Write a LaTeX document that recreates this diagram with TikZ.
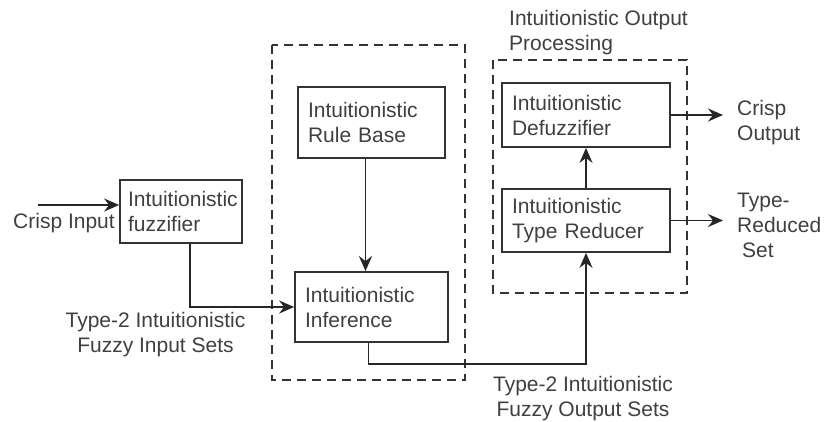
\documentclass[tikz,border=0pt]{standalone}
\usepackage{fontspec}
\setmainfont{Liberation Sans}
\usetikzlibrary{arrows.meta}
\begin{document}
\begin{tikzpicture}[x=1pt,y=-1pt,
  txt/.style={font=\fontsize{21}{25}\selectfont, text=black!75},
  box/.style={txt, draw=black!80, line width=1.8pt, inner xsep=10pt, inner ysep=3pt, align=left},
  lbl/.style={txt, inner sep=0pt},
  conn/.style={draw=black!85, line width=1.8pt},
  arr/.style={conn, -{Stealth[length=15pt,width=13pt,inset=5pt]}},
  grp/.style={draw=black!80, line width=1.6pt, dash pattern=on 9pt off 6pt}]
\fill[white] (0,0) rectangle (825,421);
\useasboundingbox (0,0) rectangle (825,421);

% group frames
\draw[grp] (272,45) rectangle (465,380);
\draw[grp] (493,60) rectangle (687,293);

% blocks
\node[box, inner xsep=8pt, text width=106pt, minimum height=63pt] (fuz) at (181,211.5) {Intuitionistic\\fuzzifier};
\node[box, text width=127pt, minimum height=71pt] (rule) at (371.5,122.5) {Intuitionistic\\Rule Base};
\node[box, text width=133pt, minimum height=70pt] (inf) at (371.5,307) {Intuitionistic\\Inference};
\node[box, text width=148pt, minimum height=64pt] (def) at (586,115) {Intuitionistic\\Defuzzifier};
\node[box, text width=148pt, minimum height=63pt] (red) at (586,220.5) {Intuitionistic\\Type Reducer};

% labels
\node[lbl, anchor=base west] (cil) at (13,228) {Crisp Input};
\node[lbl, align=center, anchor=north] (inl) at (155.5,312) {Type-2 Intuitionistic\\Fuzzy Input Sets};
\node[lbl, align=center, anchor=north] (outl) at (583,376) {Type-2 Intuitionistic\\Fuzzy Output Sets};
\node[lbl, align=left, anchor=north west] (title) at (509,10) {Intuitionistic Output\\Processing};
\node[lbl, align=left, anchor=north west] (col) at (737,100) {Crisp\\Output};
\node[lbl, align=left, anchor=north west] (rsl) at (737,193) {Type-\\Reduced\\\hspace*{5pt}Set};

% connectors
\coordinate (ci) at (38,205);
\coordinate (co) at (723,115);
\coordinate (ro) at (723,220.5);
\draw[arr] (ci) -- (ci -| fuz.west);
\draw[arr] ([xshift=9pt]fuz.south) |- (inf.west);
\draw[arr] ([xshift=-6pt]rule.south) -- ([xshift=-6pt]inf.north);
\draw[arr] ([xshift=-3pt]inf.south) -- ++(0,21) -| (red.south);
\draw[arr] (red.north) -- (def.south);
\draw[arr] (def.east) -- (co);
\draw[arr] (red.east) -- (ro);
\end{tikzpicture}
\end{document}
